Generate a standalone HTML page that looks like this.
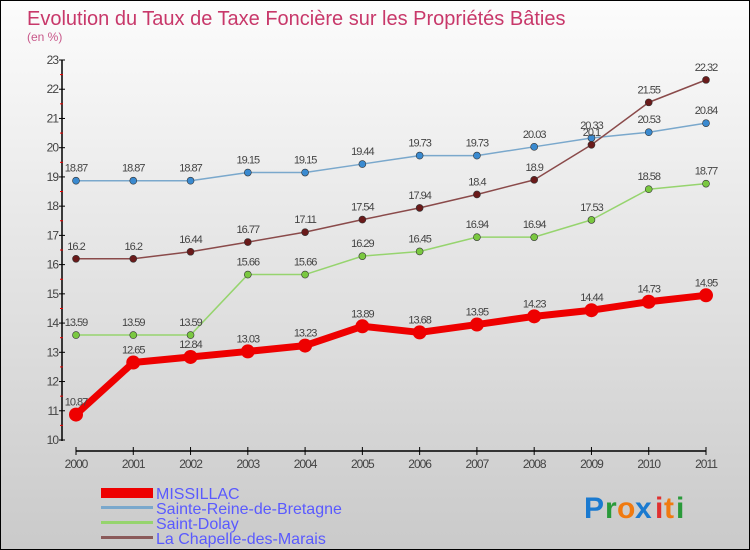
<!DOCTYPE html>
<html><head><meta charset="utf-8"><style>
body{margin:0}
#c{width:748px;height:548px;border:1px solid #000;background:linear-gradient(#fcfcfc,#cacaca);position:relative;font-family:"Liberation Sans",sans-serif;overflow:hidden}
</style></head><body>
<div id="c">
<svg id="s" width="748" height="548" xmlns="http://www.w3.org/2000/svg">
<text x="26" y="24" font-size="20" fill="#c8386a">Evolution du Taux de Taxe Foncière sur les Propriétés Bâties</text>
<text x="26" y="40" font-size="12" fill="#c8588a">(en %)</text>
<g id="g"></g>
<g>
<rect x="100" y="487" width="52" height="10" fill="#e00"/>
<text x="155" y="498" font-size="16" fill="#5a5aff">MISSILLAC</text>
<rect x="100" y="505" width="52" height="3" fill="#7aa8cc"/>
<text x="155" y="513" font-size="16" fill="#5a5aff">Sainte-Reine-de-Bretagne</text>
<rect x="100" y="520" width="52" height="3" fill="#96d46e"/>
<text x="155" y="528" font-size="16" fill="#5a5aff">Saint-Dolay</text>
<rect x="100" y="535" width="52" height="3" fill="#8a5a5a"/>
<text x="155" y="543" font-size="16" fill="#5a5aff">La Chapelle-des-Marais</text>
</g>
<g font-size="30" font-weight="bold">
<text x="583" y="517" fill="#1a7ad0">P</text><text x="604" y="517" fill="#2a9a3a">r</text><text x="616" y="517" fill="#f07a10">o</text><text x="634" y="517" fill="#1a7ad0">x</text><text x="654" y="517" fill="#e03030">i</text><text x="663" y="517" fill="#f07a10">t</text><text x="675" y="517" fill="#2a9a3a">i</text>
</g>
</svg>
</div>
<script>
const years=[2000,2001,2002,2003,2004,2005,2006,2007,2008,2009,2010,2011];
const yTicks=[10,11,12,13,14,15,16,17,18,19,20,21,22,23];
const missillac=[10.87,12.65,12.84,13.03,13.23,13.89,13.68,13.95,14.23,14.44,14.73,14.95];
const missillacLabels=["10.87","12.65","12.84","13.03","13.23","13.89","13.68","13.95","14.23","14.44","14.73","14.95"];
const sainteReine=[18.87,18.87,18.87,19.15,19.15,19.44,19.73,19.73,20.03,20.33,20.53,20.84];
const sainteReineLabels=["18.87","18.87","18.87","19.15","19.15","19.44","19.73","19.73","20.03","20.33","20.53","20.84"];
const saintDolay=[13.59,13.59,13.59,15.66,15.66,16.29,16.45,16.94,16.94,17.53,18.58,18.77];
const saintDolayLabels=["13.59","13.59","13.59","15.66","15.66","16.29","16.45","16.94","16.94","17.53","18.58","18.77"];
const laChapelle=[16.2,16.2,16.44,16.77,17.11,17.54,17.94,18.4,18.9,20.1,21.55,22.32];
const laChapelleLabels=["16.2","16.2","16.44","16.77","17.11","17.54","17.94","18.4","18.9","20.1","21.55","22.32"];
const NS="http://www.w3.org/2000/svg";
const g=document.getElementById('g');
const X=i=>75+i*(705-75)/(years.length-1);
const Y=v=>439-(v-10)*(439-59)/13;
function el(t,a,p){const e=document.createElementNS(NS,t);for(const k in a)e.setAttribute(k,a[k]);(p||g).appendChild(e);return e;}
// axes
let a=el('line',{x1:61,y1:59,x2:61,y2:440,stroke:'#000','stroke-width':1.5});


a=el('line',{x1:75,y1:450,x2:705,y2:450,stroke:'#000','stroke-width':1.5});


yTicks.forEach(v=>{
 el('line',{x1:58,x2:64,y1:Y(v),y2:Y(v),stroke:'#000'});
 if(v<23)el('line',{x1:59,x2:62,y1:Y(v+0.5),y2:Y(v+0.5),stroke:'#e00'});
 const t=el('text',{x:57,y:Y(v)+4,'font-size':12,'text-anchor':'end',fill:'#444','letter-spacing':'-1'});
 t.textContent=v;
 
 
});
years.forEach((yr,i)=>{
 el('line',{x1:X(i),x2:X(i),y1:446,y2:454,stroke:'#000'});
 const t=el('text',{x:X(i),y:467,'font-size':12,'text-anchor':'middle',fill:'#444','letter-spacing':'-1'});
 t.textContent=yr;
 
 
});
function series(vals,labels,color,dot,w,r,name,lc){
 const pts=vals.map((v,i)=>X(i)+','+Y(v)).join(' ');
 const l=el('polyline',{points:pts,fill:'none',stroke:color,'stroke-width':w,'stroke-linejoin':'round'});
 
 
 vals.forEach((v,i)=>{
  const c=el('circle',{cx:X(i),cy:Y(v),r:r,fill:dot,stroke:'#333','stroke-width':r>4?0:0.6});
  
  
  const t=el('text',{x:X(i),y:Y(v)-9,'font-size':11,'text-anchor':'middle',fill:lc,'letter-spacing':'-1'});
  t.textContent=labels[i];
  
  
 });
}
series(sainteReine,sainteReineLabels,'#7aa8cc','#3a8ad0',1.5,3.5,'sainte-reine','#444');
series(saintDolay,saintDolayLabels,'#96d46e','#7ac840',1.5,3.5,'saint-dolay','#444');
series(laChapelle,laChapelleLabels,'#8a4a4a','#6a1a1a',1.5,3.5,'la-chapelle','#444');
series(missillac,missillacLabels,'#e00','#e00',7,7,'missillac','#444');
</script>
</body></html>
